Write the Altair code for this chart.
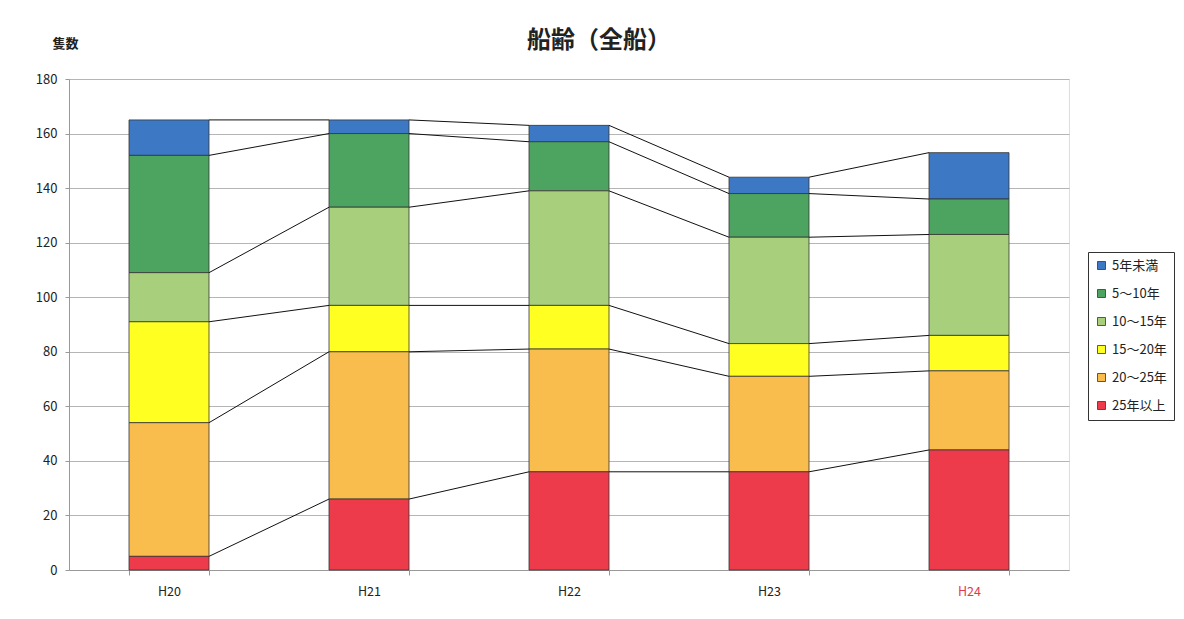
import altair as alt
import pandas as pd

years = ["H20", "H21", "H22", "H23", "H24"]
series = ["5年未満", "5～10年", "10～15年", "15～20年", "20～25年", "25年以上"]
under5 = [13, 5, 6, 6, 17]
y5_10 = [43, 27, 18, 16, 13]
y10_15 = [18, 36, 42, 39, 37]
y15_20 = [37, 17, 16, 12, 13]
y20_25 = [49, 54, 45, 35, 29]
over25 = [5, 26, 36, 36, 44]
colors = ["#3c78c4", "#4ca460", "#a8d07c", "#ffff22", "#f8bd4c", "#ee3b4c"]
y_ticks = [0, 20, 40, 60, 80, 100, 120, 140, 160, 180]

values_by_series = [under5, y5_10, y10_15, y15_20, y20_25, over25]

rows = []
for s_i, (name, vals) in enumerate(zip(series, values_by_series)):
    for i, (yr, v) in enumerate(zip(years, vals)):
        rows.append(dict(year=yr, idx=i, series=name,
                         stack=len(series) - 1 - s_i, value=v))
bars_df = pd.DataFrame(rows)

# cumulative tops for the series lines (bottom to top)
line_rows = []
cum = [0] * len(years)
for name, vals in zip(reversed(series), reversed(values_by_series)):
    cum = [c + v for c, v in zip(cum, vals)]
    for i in range(len(years) - 1):
        line_rows.append(dict(series=name, idx=i, y=cum[i], y2=cum[i + 1]))
lines_df = pd.DataFrame(line_rows)

font = "Noto Sans CJK JP"

bars = alt.Chart(bars_df).mark_bar(stroke="#333", strokeWidth=0.8).encode(
    x=alt.X("year:N", sort=years,
            scale=alt.Scale(paddingInner=0.6, paddingOuter=0.3),
            axis=alt.Axis(title=None, labelAngle=0, tickBand="extent",
                          tickSize=5, tickColor="#999", domainColor="#999",
                          labelPadding=10, labelFontSize=12.5,
                          labelColor=alt.condition("datum.value == 'H24'",
                                                   alt.value("#e03a4f"),
                                                   alt.value("#222")),
                          grid=False)),
    y=alt.Y("value:Q", stack="zero",
            scale=alt.Scale(domain=[0, 180], nice=False),
            axis=alt.Axis(values=y_ticks, title="隻数", titleAngle=0,
                          titleX=-4, titleY=-36, titleAlign="center",
                          titleBaseline="middle", titleFontSize=13,
                          titleFontWeight="bold", titleColor="#222",
                          gridColor="#b5b5b5", domainColor="#999",
                          tickColor="#999", tickSize=4, labelFontSize=13,
                          labelColor="#222", labelPadding=8)),
    color=alt.Color("series:N",
                    scale=alt.Scale(domain=series, range=colors),
                    legend=alt.Legend(title=None, orient="none",
                                      legendX=1019, legendY=173,
                                      strokeColor="#333", fillColor="white",
                                      padding=7, symbolType="square",
                                      symbolSize=64, symbolStrokeColor="#333",
                                      symbolStrokeWidth=0.8,
                                      labelFontSize=13, labelColor="#222",
                                      rowPadding=14, labelOffset=4)),
    order=alt.Order("stack:Q"),
)

lines = alt.Chart(lines_df).transform_calculate(
    x0="datum.idx + 0.2", x1="datum.idx + 0.8"
).mark_rule(color="#111", strokeWidth=1).encode(
    x=alt.X("x0:Q", scale=alt.Scale(domain=[-0.5, len(years) - 0.5],
                                    nice=False, zero=False), axis=None),
    x2="x1:Q",
    y=alt.Y("y:Q"),
    y2="y2:Q",
)

chart = alt.layer(bars, lines).resolve_scale(x="independent").properties(
    width=1000, height=491,
    title=alt.TitleParams("船齢（全船）", fontSize=24, fontWeight="bold",
                          anchor="middle", frame="group", dx=30, dy=38,
                          offset=22, color="#222"),
    padding={"left": 61, "top": 71, "right": 106, "bottom": 30},
    autosize=alt.AutoSizeParams(type="none"),
).configure_view(stroke="#444").configure(font=font)

chart.save("out.html", embed_options={"renderer": "svg", "actions": False})
